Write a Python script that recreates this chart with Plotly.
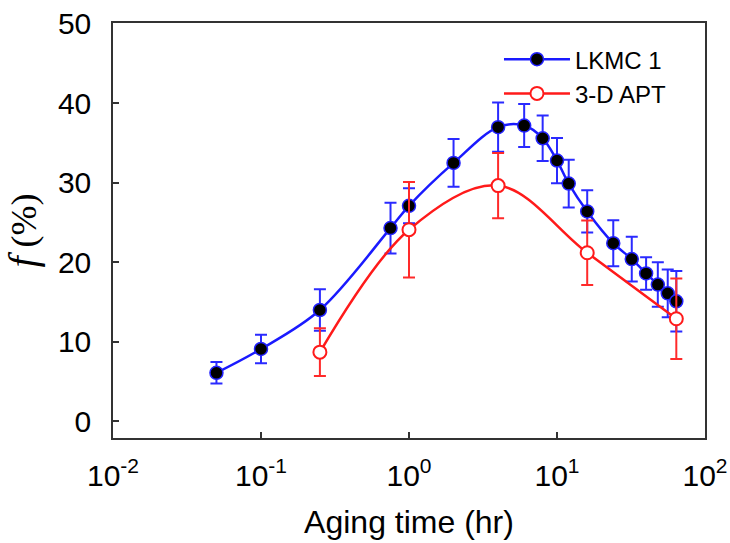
import plotly.graph_objects as go

# LKMC 1 series
lkmc_x = [0.05, 0.1, 0.25, 0.75, 1, 2, 4, 6, 8, 10, 12, 16, 24, 32, 40, 48, 56, 64]
lkmc_y = [6.1, 9.1, 14.0, 24.3, 27.1, 32.5, 37.0, 37.2, 35.6, 32.8, 29.9, 26.4, 22.4, 20.4, 18.6, 17.2, 16.1, 15.1]
lkmc_err = [1.35, 1.8, 2.6, 3.2, 2.2, 3.0, 3.1, 2.7, 2.85, 2.85, 3.0, 2.65, 2.9, 2.8, 2.05, 2.8, 3.0, 3.8]

# 3-D APT series
apt_x = [0.25, 1, 4, 16, 64]
apt_y = [8.7, 24.1, 29.65, 21.2, 12.9]
apt_err = [3.0, 6.0, 4.1, 4.05, 5.05]

x_tickvals = [0.01, 0.1, 1, 10, 100]
x_ticktext = ["10<sup>-2</sup>", "10<sup>-1</sup>", "10<sup>0</sup>", "10<sup>1</sup>", "10<sup>2</sup>"]
y_tickvals = [0, 10, 20, 30, 40, 50]

fig = go.Figure()
fig.add_trace(go.Scatter(
    x=lkmc_x, y=lkmc_y, name="LKMC 1", mode="lines+markers",
    line=dict(color="#1a1aff", width=2.5, shape="spline", smoothing=1.0),
    marker=dict(color="black", size=13, line=dict(color="#2222ff", width=1.5)),
    error_y=dict(type="data", array=lkmc_err, color="#2a2aff", thickness=2, width=6),
))
fig.add_trace(go.Scatter(
    x=apt_x, y=apt_y, name="3-D APT", mode="lines+markers",
    line=dict(color="#ff1a1a", width=2.5, shape="spline", smoothing=1.0),
    marker=dict(color="white", size=13, line=dict(color="#ff1a1a", width=2)),
    error_y=dict(type="data", array=apt_err, color="#ff2a2a", thickness=2, width=6),
))

fig.update_layout(
    width=730, height=543,
    margin=dict(l=113, r=25, t=23, b=105, autoexpand=False),
    paper_bgcolor="white", plot_bgcolor="white",
    font=dict(family="Liberation Sans, Arial, sans-serif", color="black"),
    showlegend=True,
    legend=dict(x=0.652, y=0.966, xanchor="left", yanchor="top",
                bgcolor="rgba(0,0,0,0)", font=dict(size=24),
                itemwidth=66, tracegroupgap=0),
)
fig.update_xaxes(
    type="log", range=[-2, 2], automargin=False,
    tickvals=x_tickvals, ticktext=x_ticktext,
    ticks="inside", ticklen=6, tickwidth=1.5, tickcolor="#333",
    showline=True, linecolor="#333", linewidth=1.5, mirror=True,
    showgrid=False, zeroline=False,
    tickfont=dict(size=30), ticklabelstandoff=10,
    title=dict(text="Aging time (hr)", font=dict(size=32), standoff=20),
)
fig.update_yaxes(
    range=[-2.1, 50.1], automargin=False,
    tickvals=y_tickvals,
    ticks="inside", ticklen=6, tickwidth=1.5, tickcolor="#333",
    showline=True, linecolor="#333", linewidth=1.5, mirror=True,
    showgrid=False, zeroline=False,
    tickfont=dict(size=30), ticklabelstandoff=14,
    title=dict(text="<i><span style='font-size:40px'>f</span></i> (%)",
               font=dict(size=36, family="Liberation Serif, Times New Roman, serif"), standoff=12),
)

fig.write_html("out.html")
